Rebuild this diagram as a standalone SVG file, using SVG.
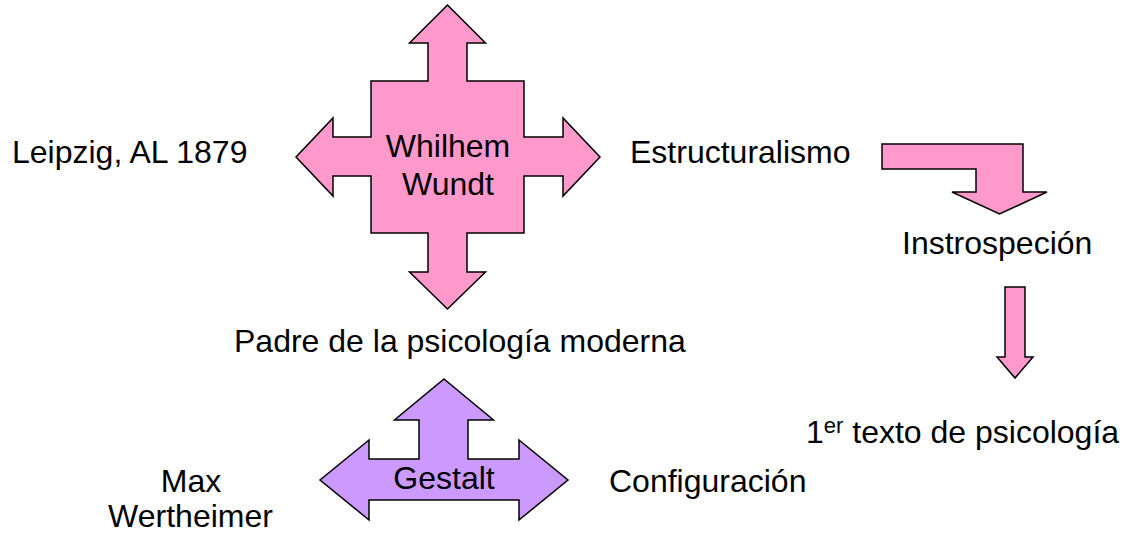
<svg xmlns="http://www.w3.org/2000/svg" width="1126" height="534" viewBox="0 0 1126 534">
<style>
  text { font-family: "Liberation Sans", Arial, sans-serif; font-size: 32px; fill: #000; }
  .mid { text-anchor: middle; }
  .pink { fill: #FF99CC; stroke: #000; stroke-width: 1.5; stroke-linejoin: miter; }
  .purple { fill: #CC99FF; stroke: #000; stroke-width: 1.5; stroke-linejoin: miter; }
</style>
<rect x="0" y="0" width="1126" height="534" fill="#FFFFFF"/>
<g id="wundt">
  <polygon class="pink" points="447.5,5 485.5,43 467,43 467,81 524,81 524,137 563,137 563,118 600,157 563,196 563,176 524,176 524,233 467,233 467,272 485.5,272 447.5,309 409.5,272 428,272 428,233 371,233 371,176 333,176 333,196 296,157 333,118 333,137 371,137 371,81 428,81 428,43 409.5,43"/>
  <text class="mid" x="448" y="157">Whilhem</text>
  <text class="mid" x="448" y="195">Wundt</text>
</g>
<g id="leipzig"><text x="12" y="163">Leipzig, AL 1879</text></g>
<g id="estructuralismo"><text x="630" y="163">Estructuralismo</text></g>
<g id="instrospecion"><text x="902" y="254">Instrospeción</text></g>
<g id="texto"><text x="806" y="443">1<tspan font-size="22" dy="-10">er</tspan><tspan dy="10"> texto de psicología</tspan></text></g>
<g id="padre"><text x="234" y="352">Padre de la psicología moderna</text></g>
<g id="gestalt">
  <polygon class="purple" points="444,379 493.5,420 468,420 468,459 519,459 519,440 568,480 519,520 519,500 369,500 369,520 320,480 369,440 369,459 419,459 419,420 394.5,420"/>
  <text class="mid" x="444" y="489">Gestalt</text>
</g>
<g id="max">
  <text class="mid" x="191" y="492">Max</text>
  <text class="mid" x="190.5" y="527">Wertheimer</text>
</g>
<g id="configuracion"><text x="609" y="492">Configuración</text></g>
<g id="connectors">
  <polygon class="pink" points="882,144 1023,144 1023,192 1047,192 999.5,214 952,192 976,192 976,169 882,169"/>
  <polygon class="pink" points="1005,287 1025,287 1025,357 1033,357 1015,378 997,357 1005,357"/>
</g>
</svg>
